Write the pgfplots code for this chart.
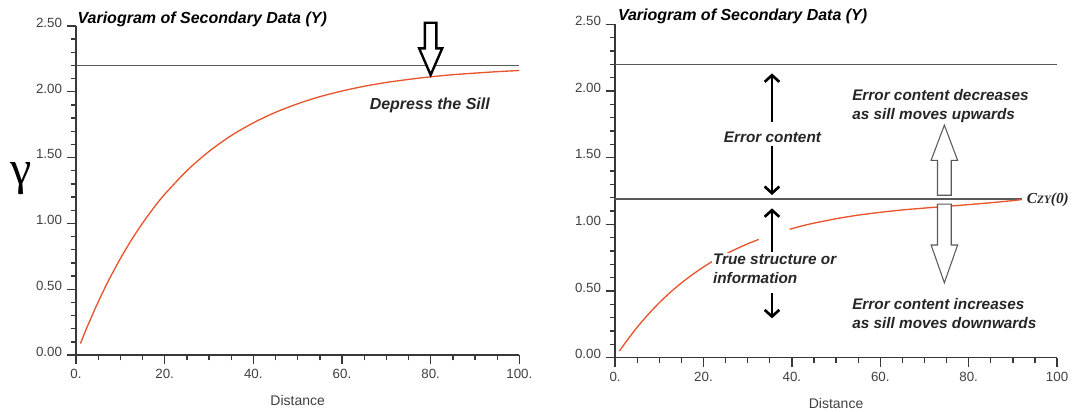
\documentclass[border=0pt]{standalone}
\usepackage{fontspec}
\setmainfont{Liberation Sans}
\newfontfamily\serifb{Liberation Serif}
\usepackage{pgfplots}
\usepackage{pgfplotstable}
\pgfplotsset{compat=1.18}
\usetikzlibrary{arrows.meta}
\definecolor{curve}{HTML}{E8552D}
\definecolor{axgray}{HTML}{383838}
\definecolor{lgray}{HTML}{5A5A5A}
\definecolor{tkgray}{HTML}{404040}

\pgfplotstableread{
x y
1 0.087
2.5 0.212
5 0.403
7.5 0.576
10 0.732
12.5 0.874
15 1.001
17.5 1.117
20 1.221
25 1.400
30 1.547
35 1.667
40 1.764
45 1.844
50 1.909
55 1.963
60 2.006
65 2.042
70 2.071
75 2.094
80 2.114
85 2.130
90 2.142
95 2.153
100 2.162
}\leftcurve

\pgfplotstableread{
x y
1 0.050
2.5 0.120
5 0.228
7.5 0.325
10 0.412
12.5 0.490
15 0.560
17.5 0.623
20 0.680
22.5 0.731
25 0.776
27.5 0.817
30 0.854
32.5 0.887
}\rightcurveA

\pgfplotstableread{
x y
39.5 0.963
42.5 0.990
45 1.009
50 1.042
55 1.069
60 1.090
65 1.108
70 1.122
75 1.135
80 1.148
85 1.162
90 1.178
92 1.186
}\rightcurveB

\pgfplotsset{vario/.style={
  scale only axis, clip=false, anchor=south west,
  xmin=0, xmax=100, ymin=0, ymax=2.5,
  axis lines=left, axis line style={-, draw=axgray, line width=1.2pt},
  tick align=outside, tick style={draw=axgray, line width=1pt},
  major tick length=7pt, minor tick length=4pt,
  xtick={0,20,40,60,80,100}, minor x tick num=3,
  ytick={0,0.5,1,1.5,2,2.5}, minor y tick num=4,
  yticklabels={0.00,0.50,1.00,1.50,2.00,2.50},
  ticklabel style={font=\fontsize{10}{12}\selectfont, text=tkgray},
  yticklabel style={yshift=2.5pt},
  /pgf/number format/assume math mode=true,
}}
\tikzset{blk/.style={font=\fontsize{11.5}{14}\selectfont\bfseries\itshape, text=black!85},
  barb/.style={line width=2pt, -{Straight Barb[length=5pt,width=11pt,line width=2pt]}},
  ttl/.style={anchor=base west, inner sep=0pt, font=\fontsize{12}{14}\selectfont\bfseries\itshape}}

\begin{document}
\begin{tikzpicture}
\useasboundingbox (0,0) rectangle (804.75pt,308.25pt);
% left panel
\begin{axis}[vario, at={(57pt,42pt)}, width=332.5pt, height=246.75pt,
  xticklabels={0.,20.,40.,60.,80.,100.}]
\addplot[lgray, line width=1pt] coordinates {(0,2.2) (100,2.2)};
\addplot[curve, line width=1pt, smooth] table[x=x,y=y] {\leftcurve};
\node[ttl, xshift=1pt, yshift=2pt] at (rel axis cs:0,1) {Variogram of Secondary Data (Y)};
\node[anchor=east, inner sep=0pt, font=\fontsize{12}{14}\selectfont\bfseries\itshape, text=black!85] at (axis cs:93.4,1.90) {Depress the Sill};
\draw[line width=1.8pt, fill=white, line join=miter] (axis cs:78.7,2.525) -- (axis cs:81.3,2.525) -- (axis cs:81.3,2.33) -- (axis cs:82.6,2.33) -- (axis cs:80,2.128) -- (axis cs:77.4,2.33) -- (axis cs:78.7,2.33) -- cycle;
\node[font=\serifb\fontsize{36}{36}\selectfont, xshift=-41.5pt] at (rel axis cs:0,0.537) {γ};
\node[font=\fontsize{10.5}{12}\selectfont, text=tkgray, yshift=-33.75pt] at (rel axis cs:0.5,0) {Distance};
\end{axis}
% right panel
\begin{axis}[vario, at={(461.3pt,40pt)}, width=331.5pt, height=250pt,
  xticklabels={0.,20.,40.,60.,80.,100}]
\addplot[lgray, line width=1pt] coordinates {(0,2.2) (100,2.2)};
\addplot[lgray, line width=1pt] coordinates {(0,1.19) (92,1.19)};
\addplot[curve, line width=1pt, smooth] table[x=x,y=y] {\rightcurveA};
\addplot[curve, line width=1pt, smooth] table[x=x,y=y] {\rightcurveB};
\node[ttl, xshift=2pt, yshift=2.5pt] at (rel axis cs:0,1) {Variogram of Secondary Data (Y)};
\node[blk] at (axis cs:35.6,1.655) {Error content};
\draw[barb] (axis cs:35.5,1.77) -- (axis cs:35.5,2.132);
\draw[barb] (axis cs:35.5,1.587) -- (axis cs:35.5,1.22);
\draw[barb] (axis cs:35.5,0.795) -- (axis cs:35.5,1.12);
\draw[barb] (axis cs:35.5,0.485) -- (axis cs:35.5,0.295);
\node[blk, anchor=west, align=left, fill=white, inner sep=1pt] at (axis cs:21.8,0.667) {True structure or\\information};
\node[blk, anchor=west, align=left, inner sep=0pt] at (axis cs:53.6,1.889) {Error content decreases\\as sill moves upwards};
\node[blk, anchor=west, align=left, inner sep=0pt] at (axis cs:53.6,0.33) {Error content increases\\as sill moves downwards};
\draw[lgray, line width=0.8pt, fill=white] (axis cs:72.95,1.218) -- (axis cs:76.05,1.218) -- (axis cs:76.05,1.48) -- (axis cs:77.5,1.48) -- (axis cs:74.5,1.744) -- (axis cs:71.5,1.48) -- (axis cs:72.95,1.48) -- cycle;
\draw[lgray, line width=0.8pt, fill=white] (axis cs:72.95,1.152) -- (axis cs:76.05,1.152) -- (axis cs:76.05,0.845) -- (axis cs:77.5,0.845) -- (axis cs:74.5,0.562) -- (axis cs:71.5,0.845) -- (axis cs:72.95,0.845) -- cycle;
\node[anchor=west, font=\serifb\fontsize{11.5}{12}\selectfont\bfseries\itshape, text=black!85, inner sep=1pt] at (axis cs:92.8,1.185) {C{\fontsize{8.5}{9}\selectfont ZY}(0)};
\node[font=\fontsize{10.5}{12}\selectfont, text=tkgray, yshift=-34pt] at (rel axis cs:0.5,0) {Distance};
\end{axis}
\end{tikzpicture}
\end{document}
